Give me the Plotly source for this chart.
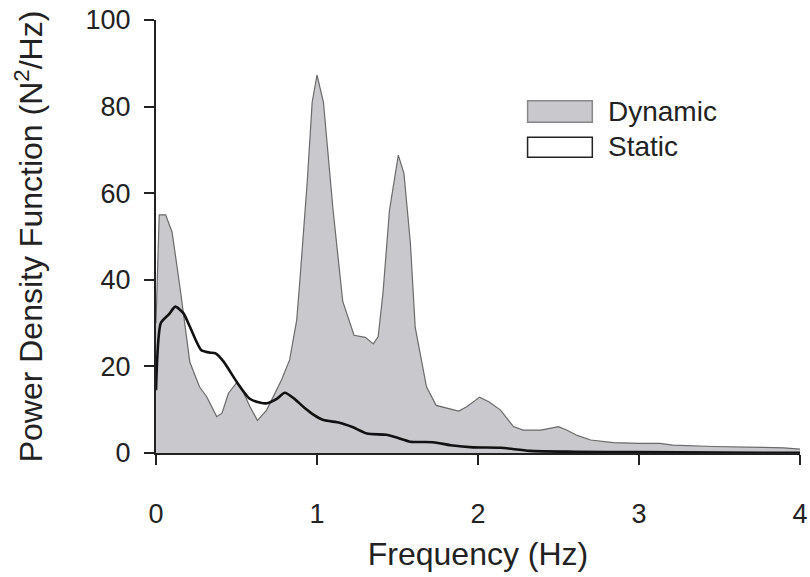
import plotly.graph_objects as go

# Dynamic PSD (gray filled area)
dyn_freq = [0, 0.02, 0.03, 0.06, 0.10, 0.15, 0.21, 0.27, 0.315, 0.377, 0.41, 0.45, 0.50, 0.53,
            0.584, 0.63, 0.687, 0.73, 0.78, 0.83, 0.874, 0.894, 0.94, 0.97, 1.0, 1.04, 1.10,
            1.16, 1.23, 1.30, 1.35, 1.38, 1.41, 1.45, 1.505, 1.54, 1.58, 1.61, 1.68, 1.74,
            1.80, 1.88, 1.93, 2.01, 2.07, 2.14, 2.22, 2.28, 2.39, 2.45, 2.50, 2.55, 2.62,
            2.70, 2.84, 3.0, 3.13, 3.21, 3.46, 3.77, 3.9, 4.0]
dyn_psd = [30, 55, 55, 55, 51, 38, 21, 15.3, 13, 8.4, 9.2, 13.8, 16.2, 15,
           10.7, 7.5, 9.9, 13, 16.9, 21.5, 30.7, 40, 63, 81, 87.3, 81, 56,
           35, 27.2, 26.7, 25.2, 26.9, 37, 56, 68.8, 64.6, 48.5, 29, 15.3, 11,
           10.4, 9.7, 10.7, 12.9, 11.8, 9.9, 6.1, 5.3, 5.3, 5.8, 6.1, 5.3, 4.0,
           3.0, 2.4, 2.2, 2.2, 1.8, 1.5, 1.3, 1.2, 0.9]

# Static PSD (black line)
sta_freq = [0, 0.03, 0.08, 0.12, 0.17, 0.21, 0.28, 0.33, 0.37, 0.42, 0.50, 0.58, 0.65, 0.69,
            0.75, 0.80, 0.86, 0.92, 0.98, 1.04, 1.14, 1.22, 1.31, 1.43, 1.50, 1.58, 1.72,
            1.83, 1.97, 2.14, 2.32, 2.6, 3.0, 3.5, 4.0]
sta_psd = [14.5, 30, 32, 33.8, 32.3, 29.2, 23.8, 23.2, 23.0, 21.1, 16.5, 12.6, 11.6, 11.5,
           12.5, 13.9, 12.5, 10.5, 8.8, 7.6, 7.0, 6.0, 4.5, 4.2, 3.5, 2.6, 2.5,
           1.8, 1.3, 1.2, 0.5, 0.3, 0.2, 0.1, 0.05]

x_ticks = [0, 1, 2, 3, 4]
y_ticks = [0, 20, 40, 60, 80, 100]
legend_names = ["Dynamic", "Static"]

FONT = "Liberation Sans, Arial, sans-serif"
TXT = "#222222"

fig = go.Figure()
fig.add_trace(go.Scatter(
    x=dyn_freq, y=dyn_psd, mode="lines", fill="tozeroy",
    fillcolor="#c9c9cd", line=dict(color="#6a6a6a", width=1.2),
    name=legend_names[0], showlegend=False, hoverinfo="skip"))
fig.add_trace(go.Scatter(
    x=sta_freq, y=sta_psd, mode="lines",
    line=dict(color="#111111", width=2.6, shape="spline", smoothing=0.6),
    name=legend_names[1], showlegend=False, hoverinfo="skip"))

# custom legend (boxes + text)
fig.add_shape(type="rect", xref="paper", yref="paper", x0=0.577, x1=0.6775, y0=0.7637, y1=0.8136,
              fillcolor="#c9c9cd", line=dict(color="#888888", width=1.5))
fig.add_shape(type="rect", xref="paper", yref="paper", x0=0.577, x1=0.6775, y0=0.683, y1=0.729,
              fillcolor="white", line=dict(color="#222222", width=1.5))
fig.add_annotation(xref="paper", yref="paper", x=0.6985, y=0.7887, text=legend_names[0],
                   showarrow=False, xanchor="left", yanchor="middle",
                   font=dict(family=FONT, size=28, color=TXT))
fig.add_annotation(xref="paper", yref="paper", x=0.6985, y=0.707, text=legend_names[1],
                   showarrow=False, xanchor="left", yanchor="middle",
                   font=dict(family=FONT, size=28, color=TXT))

fig.update_layout(
    width=810, height=577,
    margin=dict(l=156, r=10, t=20, b=124),
    paper_bgcolor="white", plot_bgcolor="white",
    font=dict(family=FONT, color=TXT),
)
fig.update_xaxes(
    range=[0, 4], tickvals=x_ticks, ticktext=[str(v) for v in x_ticks],
    showgrid=False, zeroline=False, showline=True, linecolor=TXT, linewidth=2,
    ticks="outside", ticklen=10, tickwidth=2, tickcolor=TXT, automargin=False,
    tickfont=dict(size=27, family=FONT, color=TXT), ticklabelstandoff=26,
    title=dict(text="Frequency (Hz)", font=dict(size=32, family=FONT, color=TXT), standoff=14),
)
fig.update_yaxes(
    range=[0, 100], tickvals=y_ticks, ticktext=[str(v) for v in y_ticks],
    showgrid=False, zeroline=False, showline=True, linecolor=TXT, linewidth=2,
    ticks="outside", ticklen=10, tickwidth=2, tickcolor=TXT, automargin=False,
    tickfont=dict(size=27, family=FONT, color=TXT), ticklabelstandoff=8,
    title=dict(text="Power Density Function (N<sup>2</sup>/Hz)",
               font=dict(size=32, family=FONT, color=TXT), standoff=33),
)

fig.write_html("out.html")
